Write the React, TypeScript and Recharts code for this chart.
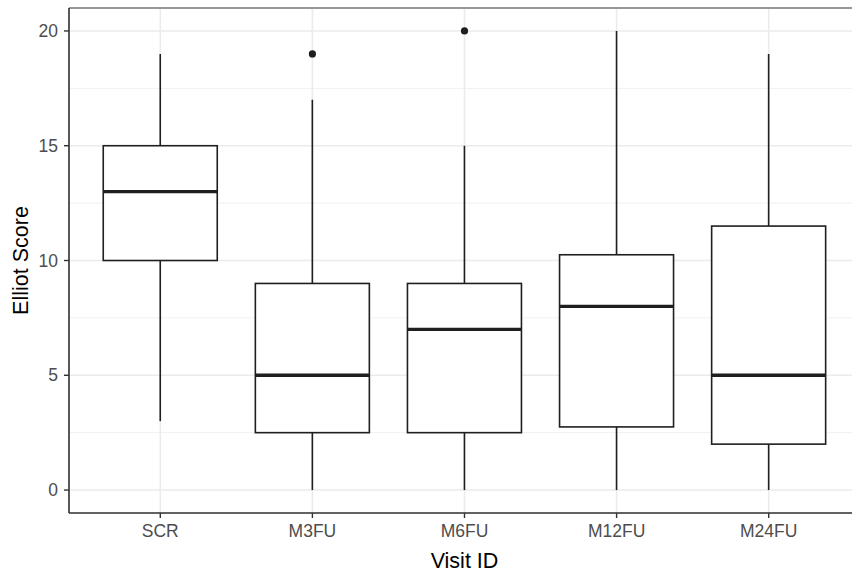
import React from "react";
import {
  ComposedChart,
  Bar,
  Scatter,
  XAxis,
  YAxis,
  CartesianGrid,
  ReferenceLine,
  Label,
} from "recharts";

const categories = ["SCR", "M3FU", "M6FU", "M12FU", "M24FU"];
const whiskerLow = [3, 0, 0, 0, 0];
const q1 = [10, 2.5, 2.5, 2.75, 2];
const median = [13, 5, 7, 8, 5];
const q3 = [15, 9, 9, 10.25, 11.5];
const whiskerHigh = [19, 17, 15, 20, 19];
const outlier: (number | null)[] = [null, 19, 20, null, null];
const yTicks = [0, 5, 10, 15, 20];
const yMinorLines = [2.5, 7.5, 12.5, 17.5];
const yDomain: [number, number] = [-1, 21];

const data = categories.map((name, i) => ({
  name,
  low: whiskerLow[i],
  q1: q1[i],
  median: median[i],
  q3: q3[i],
  high: whiskerHigh[i],
  outlier: outlier[i],
}));

const INK = "#1f1f1f";

const BoxShape = (props: any) => {
  const { x, y, width, height, payload } = props;
  if (payload == null || !isFinite(y) || !isFinite(height)) return null;
  const { low, high } = payload;
  const px = (v: number) => y + ((high - v) / (high - low)) * height;
  const cx = x + width / 2;
  const yq1 = px(payload.q1);
  const yq3 = px(payload.q3);
  const ymed = px(payload.median);
  return (
    <g>
      <line x1={cx} x2={cx} y1={px(high)} y2={yq3} stroke={INK} strokeWidth={1.6} />
      <line x1={cx} x2={cx} y1={yq1} y2={px(low)} stroke={INK} strokeWidth={1.6} />
      <rect
        x={x}
        y={yq3}
        width={width}
        height={yq1 - yq3}
        fill="#ffffff"
        stroke={INK}
        strokeWidth={1.6}
      />
      <line x1={x} x2={x + width} y1={ymed} y2={ymed} stroke={INK} strokeWidth={3.4} />
    </g>
  );
};

const OutlierDot = (p: any) => {
  if (p.payload == null || p.payload.outlier == null || !isFinite(p.cy)) return <g />;
  return <circle cx={p.cx} cy={p.cy} r={3.6} fill={INK} />;
};

const YTitle = (props: any) => {
  const vb = props.viewBox || {};
  const cx = vb.x + 21;
  const cy = vb.y + vb.height / 2;
  return (
    <text
      x={cx}
      y={cy}
      transform={`rotate(-90, ${cx}, ${cy})`}
      textAnchor="middle"
      dominantBaseline="central"
      fontSize={21.5}
      fill="#000"
      fontFamily="'Liberation Sans', Arial, sans-serif"
    >
      Elliot Score
    </text>
  );
};

const XTitle = (props: any) => {
  const vb = props.viewBox || {};
  return (
    <text
      x={vb.x + vb.width / 2}
      y={568}
      textAnchor="middle"
      fontSize={21.5}
      fill="#000"
      fontFamily="'Liberation Sans', Arial, sans-serif"
    >
      Visit ID
    </text>
  );
};

export default function App() {
  return (
    <div
      style={{
        position: "absolute",
        left: 0,
        top: 0,
        width: 852,
        height: 573,
        overflow: "hidden",
        background: "#fff",
        fontFamily: "'Liberation Sans', Arial, sans-serif",
      }}
    >
      <ComposedChart
        width={900}
        height={573}
        data={data}
        margin={{ top: 8, right: 40, left: 0, bottom: 0 }}
      >
        <CartesianGrid
          yAxisId="minor"
          vertical={false}
          stroke="#f0f0f0"
          strokeWidth={1}
        />
        <CartesianGrid stroke="#ebebeb" strokeWidth={1.6} />
        <ReferenceLine y={yDomain[1]} stroke="#7a7a7a" strokeWidth={1.6} />
        <XAxis
          dataKey="name"
          type="category"
          height={60}
          padding={{ left: 15.25, right: 15.25 }}
          axisLine={{ stroke: "#333", strokeWidth: 1.6 }}
          tickLine={{ stroke: "#333", strokeWidth: 1.4 }}
          tickSize={5}
          tickMargin={7}
          tick={{ fill: "#4d4d4d", fontSize: 17.5 }}
          interval={0}
        >
          <Label content={<XTitle />} />
        </XAxis>
        <YAxis
          type="number"
          domain={yDomain}
          ticks={yTicks}
          allowDataOverflow
          width={69}
          axisLine={{ stroke: "#333", strokeWidth: 1.6 }}
          tickLine={{ stroke: "#333", strokeWidth: 1.4 }}
          tickSize={5}
          tickMargin={6}
          tick={{ fill: "#4d4d4d", fontSize: 17.5 }}
        >
          <Label content={<YTitle />} />
        </YAxis>
        <YAxis
          yAxisId="minor"
          type="number"
          domain={yDomain}
          ticks={yMinorLines}
          allowDataOverflow
          hide
        />
        <Bar
          dataKey={(d: any) => [d.low, d.high]}
          barSize={114}
          shape={<BoxShape />}
          isAnimationActive={false}
        />
        <Scatter
          dataKey="outlier"
          fill={INK}
          shape={<OutlierDot />}
          isAnimationActive={false}
        />
      </ComposedChart>
    </div>
  );
}
